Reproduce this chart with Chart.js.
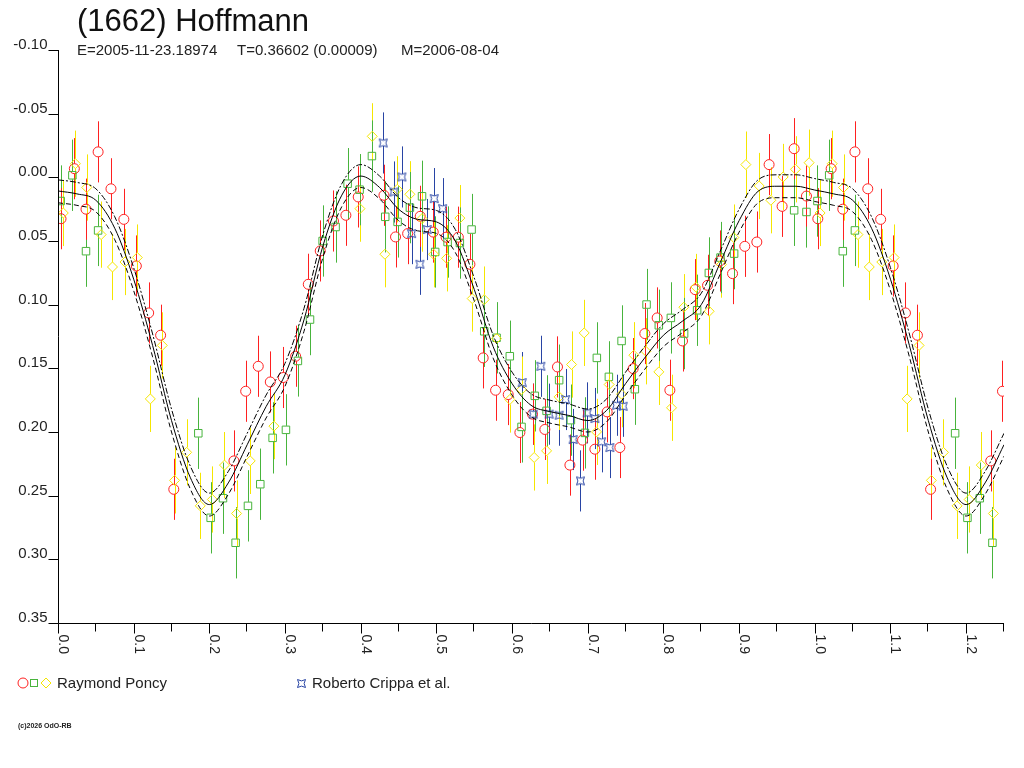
<!DOCTYPE html>
<html>
<head>
<meta charset="utf-8">
<title>(1662) Hoffmann</title>
<script src="https://cdn.jsdelivr.net/npm/chart.js@4.4.1/dist/chart.umd.min.js"></script>
<style>
  html, body { margin: 0; padding: 0; background: #fff; }
  canvas { display: block; }
</style>
</head>
<body>
<canvas id="lightcurve" width="1024" height="768"></canvas>
<script>
// [phase, relative magnitude] (phase 0..1, repeated up to 1.25)
const poncyNight1 = [
  [0.004, 0.0325], [0.0216, -0.0068], [0.037, 0.025], [0.053, -0.020], [0.070, 0.009],
  [0.087, 0.033], [0.1035, 0.0696], [0.1198, 0.1065], [0.1356, 0.124], [0.153, 0.245],
  [0.2325, 0.2227], [0.248, 0.168], [0.2646, 0.1484], [0.2805, 0.1607], [0.2977, 0.1572],
  [0.314, 0.1405], [0.3307, 0.084], [0.3465, 0.0578], [0.364, 0.0343], [0.3804, 0.0298],
  [0.3967, 0.0154], [0.4307, 0.0141], [0.446, 0.0468], [0.462, 0.0442], [0.4786, 0.0306],
  [0.4958, 0.043], [0.5128, 0.047], [0.529, 0.047], [0.5443, 0.0683], [0.5618, 0.1418],
  [0.5782, 0.1672], [0.5949, 0.1706], [0.6103, 0.2004], [0.627, 0.186], [0.6433, 0.198],
  [0.66, 0.1489], [0.6764, 0.226], [0.6931, 0.2064], [0.7094, 0.2135], [0.7256, 0.1842],
  [0.7424, 0.2122], [0.76, 0.1502], [0.7754, 0.1227], [0.7917, 0.1104], [0.8085, 0.1672],
  [0.8252, 0.1285], [0.8419, 0.0882], [0.8583, 0.0848], [0.8745, 0.0657], [0.8913, 0.0756],
  [0.9075, 0.0542], [0.9234, 0.0508], [0.9396, -0.010], [0.9568, 0.0228], [0.9727, -0.0225],
  [0.989, 0.0147]
];
const poncyNight2 = [
  [0.0035, 0.0186], [0.019, -0.0016], [0.037, 0.058], [0.053, 0.0417], [0.1854, 0.201],
  [0.2017, 0.2674], [0.218, 0.252], [0.2347, 0.287], [0.251, 0.258], [0.2673, 0.241],
  [0.2836, 0.2046], [0.3012, 0.1983], [0.317, 0.1442], [0.333, 0.1117], [0.3497, 0.050],
  [0.3668, 0.039], [0.3827, 0.005], [0.3985, 0.0097], [0.4148, -0.0167], [0.4324, 0.031],
  [0.4487, 0.035], [0.465, 0.0238], [0.481, 0.0149], [0.4984, 0.0586], [0.5148, 0.0508],
  [0.531, 0.0516], [0.5465, 0.041], [0.5632, 0.1209], [0.5795, 0.126], [0.597, 0.1405],
  [0.6125, 0.196], [0.630, 0.1716], [0.6456, 0.1834], [0.6622, 0.1593], [0.6777, 0.1907],
  [0.6962, 0.2007], [0.712, 0.1418], [0.7279, 0.1567], [0.7447, 0.1285], [0.7622, 0.1664],
  [0.7777, 0.0999], [0.7939, 0.1162], [0.8098, 0.1104], [0.8273, 0.1227], [0.8445, 0.1044],
  [0.860, 0.0751], [0.8754, 0.063], [0.8934, 0.0599], [0.9727, 0.0259], [0.989, 0.0272]
];
const poncyNight3 = [
  [0.007, 0.028], [0.023, -0.0107], [0.038, 0.008], [0.057, 0.045], [0.072, 0.0704],
  [0.0885, 0.0665], [0.1048, 0.063], [0.122, 0.174], [0.1378, 0.132], [0.154, 0.238],
  [0.170, 0.216], [0.188, 0.258], [0.204, 0.253], [0.220, 0.226], [0.236, 0.264],
  [0.254, 0.2227], [0.2853, 0.1954], [0.399, 0.0246], [0.4152, -0.0322], [0.432, 0.0604],
  [0.4483, 0.0094], [0.465, 0.0133], [0.481, 0.0324], [0.4963, 0.0604], [0.5135, 0.0636],
  [0.531, 0.032], [0.5473, 0.0952], [0.5632, 0.096], [0.5795, 0.1266], [0.597, 0.1745],
  [0.6125, 0.1667], [0.6292, 0.220], [0.6456, 0.2148], [0.6622, 0.1724], [0.6786, 0.147],
  [0.6953, 0.1222], [0.7116, 0.1999], [0.7283, 0.1627], [0.7447, 0.1703], [0.7609, 0.1397],
  [0.7768, 0.1366], [0.7939, 0.1528], [0.8107, 0.181], [0.827, 0.102], [0.8428, 0.0861],
  [0.8604, 0.1052], [0.8767, 0.0685], [0.893, 0.0473], [0.9089, -0.010], [0.9265, 0.0068],
  [0.9419, 0.018], [0.9582, -0.0003], [0.9745, -0.0063], [0.9925, -0.0115]
];
const crippa = [
  [0.4297, -0.027], [0.4439, 0.0115], [0.4544, -0.0003], [0.4672, 0.0442], [0.4782, 0.0683],
  [0.4879, 0.041], [0.4971, 0.0167], [0.5082, 0.0246], [0.6134, 0.1612], [0.6279, 0.186],
  [0.638, 0.1484], [0.649, 0.186], [0.6622, 0.1868], [0.6707, 0.1745], [0.6807, 0.2059],
  [0.6904, 0.2384], [0.6992, 0.185], [0.7094, 0.1894], [0.7182, 0.2077], [0.7292, 0.2122],
  [0.738, 0.179], [0.7468, 0.1798]
];

// error bar half-lengths (mag) per night
const errNight1 = 0.024;
const errNight2 = 0.028;
const errNight3 = 0.026;
const errCrippa = 0.024;

// fitted curve and its two envelopes, read every 0.025 in phase
const curvePhase = [
  0.000, 0.025, 0.050, 0.075, 0.100, 0.125, 0.150, 0.175, 0.200, 0.225,
  0.250, 0.275, 0.300, 0.325, 0.350, 0.375, 0.400, 0.425, 0.450, 0.475,
  0.500, 0.525, 0.550, 0.575, 0.600, 0.625, 0.650, 0.675, 0.700, 0.725,
  0.750, 0.775, 0.800, 0.825, 0.850, 0.875, 0.900, 0.925, 0.950, 0.975,
  1.000, 1.025, 1.050, 1.075, 1.100, 1.125, 1.150, 1.175, 1.200, 1.225, 1.250
];
const curveMag = [
  0.0107, 0.013, 0.018, 0.040, 0.080, 0.132, 0.191, 0.236, 0.257, 0.240,
  0.210, 0.180, 0.155, 0.112, 0.054, 0.014, -0.001, 0.008, 0.025, 0.033,
  0.035, 0.050, 0.088, 0.133, 0.162, 0.179, 0.184, 0.187, 0.191, 0.183,
  0.162, 0.142, 0.124, 0.113, 0.100, 0.067, 0.034, 0.011, 0.007, 0.007,
  0.010, 0.013, 0.018, 0.040, 0.080, 0.132, 0.191, 0.236, 0.257, 0.240, 0.210
];
const curveUpper = [
  0.002, 0.004, 0.009, 0.031, 0.071, 0.123, 0.182, 0.227, 0.248, 0.231,
  0.201, 0.171, 0.146, 0.103, 0.045, 0.005, -0.010, -0.001, 0.016, 0.024,
  0.026, 0.041, 0.079, 0.124, 0.153, 0.170, 0.175, 0.178, 0.182, 0.174,
  0.153, 0.133, 0.115, 0.104, 0.091, 0.058, 0.025, 0.002, -0.002, -0.002,
  0.001, 0.004, 0.009, 0.031, 0.071, 0.123, 0.182, 0.227, 0.248, 0.231, 0.201
];
const curveLower = [
  0.020, 0.022, 0.027, 0.049, 0.089, 0.141, 0.200, 0.245, 0.266, 0.249,
  0.219, 0.189, 0.164, 0.121, 0.063, 0.023, 0.008, 0.017, 0.034, 0.042,
  0.044, 0.059, 0.097, 0.142, 0.171, 0.188, 0.193, 0.196, 0.200, 0.192,
  0.171, 0.151, 0.133, 0.122, 0.109, 0.076, 0.043, 0.020, 0.016, 0.016,
  0.019, 0.022, 0.027, 0.049, 0.089, 0.141, 0.200, 0.245, 0.266, 0.249, 0.219
];

const xTickValues = [0, 0.1, 0.2, 0.3, 0.4, 0.5, 0.6, 0.7, 0.8, 0.9, 1.0, 1.1, 1.2];
const xTickLabels = ["0.0", "0.1", "0.2", "0.3", "0.4", "0.5", "0.6", "0.7", "0.8", "0.9", "1.0", "1.1", "1.2"];
const xMinorTicks = [0.05, 0.15, 0.25, 0.35, 0.45, 0.55, 0.65, 0.75, 0.85, 0.95, 1.05, 1.15, 1.25];
const yTickValues = [-0.10, -0.05, 0, 0.05, 0.10, 0.15, 0.20, 0.25, 0.30, 0.35];
const yTickLabels = ["-0.10", "-0.05", "0.00", "0.05", "0.10", "0.15", "0.20", "0.25", "0.30", "0.35"];

const RED = "#ff2020";
const GREEN = "#48b43c";
const YELLOW = "#f5e600";
const BLUE = "#2844a4";
const FONT = "'Liberation Sans', Arial, sans-serif";

// the phased plot shows phases 0..1.25, so early points appear twice
const phased = (points) => {
  const out = points.map(([p, m]) => ({ x: p, y: m }));
  points.forEach(([p, m]) => {
    if (p + 1 <= 1.25) out.push({ x: p + 1, y: m });
  });
  return out;
};

const curve = (mags) => curvePhase.map((p, i) => ({ x: p, y: mags[i] }));

// small concave four-pointed marker used for the Crippa data
const crippaMarker = (() => {
  const c = document.createElement("canvas");
  c.width = 11;
  c.height = 11;
  const g = c.getContext("2d");
  const m = 5.5, r = 4, s = 2.8;
  g.strokeStyle = BLUE;
  g.lineWidth = 1;
  g.beginPath();
  g.moveTo(m - r, m - r);
  g.quadraticCurveTo(m, m - r + s, m + r, m - r);
  g.quadraticCurveTo(m + r - s, m, m + r, m + r);
  g.quadraticCurveTo(m, m + r - s, m - r, m + r);
  g.quadraticCurveTo(m - r + s, m, m - r, m - r);
  g.stroke();
  return c;
})();

const errorBars = {
  id: "errorBars",
  beforeDatasetsDraw(chart) {
    const { ctx, chartArea: a, scales } = chart;
    ctx.save();
    ctx.beginPath();
    ctx.rect(a.left, a.top, a.right - a.left, a.bottom - a.top);
    ctx.clip();
    ctx.lineWidth = 1;
    chart.data.datasets.forEach((ds) => {
      if (!ds.errorBar) return;
      ctx.strokeStyle = ds.borderColor;
      ds.data.forEach((p) => {
        const x = Math.round(scales.x.getPixelForValue(p.x)) + 0.5;
        const yc = scales.y.getPixelForValue(p.y);
        const y1 = scales.y.getPixelForValue(p.y - ds.errorBar);
        const y2 = scales.y.getPixelForValue(p.y + ds.errorBar);
        ctx.beginPath();
        ctx.moveTo(x, y1);
        ctx.lineTo(x, yc - ds.markerGap);
        ctx.moveTo(x, yc + ds.markerGap);
        ctx.lineTo(x, y2);
        ctx.stroke();
      });
    });
    ctx.restore();
  },
};

const frame = {
  id: "frame",
  afterDraw(chart) {
    const { ctx, chartArea: a, scales } = chart;
    const left = a.left + 0.5;
    const bottom = Math.round(a.bottom) + 0.5;
    ctx.save();
    ctx.strokeStyle = "#000";
    ctx.lineWidth = 1;
    ctx.beginPath();
    ctx.moveTo(left, a.top);
    ctx.lineTo(left, bottom);
    ctx.lineTo(a.right, bottom);
    yTickValues.forEach((v) => {
      const py = Math.round(scales.y.getPixelForValue(v)) + 0.5;
      ctx.moveTo(left - 10, py);
      ctx.lineTo(left, py);
    });
    xTickValues.forEach((v) => {
      const px = Math.round(scales.x.getPixelForValue(v)) + 0.5;
      ctx.moveTo(px, bottom);
      ctx.lineTo(px, bottom + 10);
    });
    xMinorTicks.forEach((v) => {
      const px = Math.round(scales.x.getPixelForValue(v)) - 0.5;
      ctx.moveTo(px, bottom);
      ctx.lineTo(px, bottom + 8);
    });
    ctx.stroke();

    ctx.fillStyle = "#222";
    ctx.font = `15px ${FONT}`;
    ctx.textAlign = "right";
    ctx.textBaseline = "alphabetic";
    yTickValues.forEach((v, i) => {
      const py = Math.round(scales.y.getPixelForValue(v));
      ctx.fillText(yTickLabels[i], left - 11, py - 1);
    });

    ctx.font = `14px ${FONT}`;
    ctx.textAlign = "left";
    xTickValues.forEach((v, i) => {
      const px = Math.round(scales.x.getPixelForValue(v));
      ctx.save();
      ctx.translate(px + 1, bottom + 11);
      ctx.rotate(Math.PI / 2);
      ctx.fillText(xTickLabels[i], 0, 0);
      ctx.restore();
    });

    // title and header line
    ctx.fillStyle = "#111";
    ctx.font = `31px ${FONT}`;
    ctx.fillText("(1662) Hoffmann", 77, 31);
    ctx.font = `15px ${FONT}`;
    ctx.fillStyle = "#222";
    ctx.fillText("E=2005-11-23.18974", 77, 55);
    ctx.fillText("T=0.36602 (0.00009)", 237, 55);
    ctx.fillText("M=2006-08-04", 401, 55);

    // legend
    const ly = 683;
    ctx.lineWidth = 1;
    ctx.strokeStyle = RED;
    ctx.beginPath();
    ctx.arc(23, ly, 5, 0, Math.PI * 2);
    ctx.stroke();
    ctx.strokeStyle = GREEN;
    ctx.strokeRect(30.5, ly - 3.5, 7, 7);
    ctx.strokeStyle = YELLOW;
    ctx.beginPath();
    ctx.moveTo(46, ly - 5);
    ctx.lineTo(51, ly);
    ctx.lineTo(46, ly + 5);
    ctx.lineTo(41, ly);
    ctx.closePath();
    ctx.stroke();
    ctx.drawImage(crippaMarker, 296, ly - 5);
    ctx.fillStyle = "#222";
    ctx.font = `15px ${FONT}`;
    ctx.fillText("Raymond Poncy", 57, 688);
    ctx.fillText("Roberto Crippa et al.", 312, 688);

    ctx.font = `bold 7px ${FONT}`;
    ctx.fillText("(c)2026 OdO-RB", 18, 728);
    ctx.restore();
  },
};

const lineSet = (data, dash) => ({
  type: "line",
  data,
  borderColor: "#000",
  borderWidth: 1,
  borderDash: dash,
  pointRadius: 0,
  cubicInterpolationMode: "monotone",
  fill: false,
});

const markerSet = (data, color, style, radius, err, gap) => ({
  type: "scatter",
  data,
  pointStyle: style,
  pointRadius: radius,
  pointBorderColor: color,
  pointBackgroundColor: "rgba(0,0,0,0)",
  pointBorderWidth: 1,
  borderColor: color,
  errorBar: err,
  markerGap: gap,
});

new Chart(document.getElementById("lightcurve"), {
  type: "scatter",
  data: {
    datasets: [
      lineSet(curve(curveMag), []),
      lineSet(curve(curveUpper), [6, 2, 2, 2]),
      lineSet(curve(curveLower), [5, 3]),
      markerSet(phased(crippa), BLUE, crippaMarker, 4, errCrippa, 3),
      markerSet(phased(poncyNight3), YELLOW, "rectRot", 5, errNight3, 5),
      markerSet(phased(poncyNight2), GREEN, "rect", 5.3, errNight2, 4),
      markerSet(phased(poncyNight1), RED, "circle", 5, errNight1, 5),
    ],
  },
  options: {
    responsive: false,
    animation: false,
    devicePixelRatio: 1,
    layout: { padding: { left: 58, top: 50, right: 20, bottom: 145 } },
    scales: {
      x: { type: "linear", min: 0, max: 1.25, display: false },
      y: { type: "linear", min: -0.1, max: 0.35, reverse: true, display: false },
    },
    plugins: {
      legend: { display: false },
      tooltip: { enabled: false },
    },
  },
  plugins: [errorBars, frame],
});
</script>
</body>
</html>
